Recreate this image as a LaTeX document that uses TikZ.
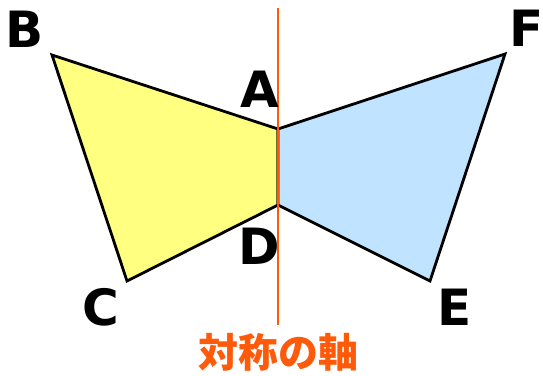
\documentclass[tikz,border=0pt]{standalone}
\usepackage{fontspec}
\setmainfont{DejaVu Sans}
\newfontfamily\jpfont{Noto Sans CJK JP}
\usepackage{xcolor}
\usetikzlibrary{positioning}
\definecolor{wingyellow}{HTML}{FFFF80}
\definecolor{wingblue}{HTML}{C0E4FF}
\definecolor{axisorange}{HTML}{FF5A0A}

\begin{document}
\begin{tikzpicture}[x=1pt, y=-1pt, lab/.style={font=\fontsize{50}{50}\selectfont\bfseries, inner sep=0pt}, wing/.style={draw=black, line width=2.8pt, line join=miter}]
\useasboundingbox (0,0) rectangle (543,375);
\coordinate (A) at (278,129);
\coordinate (D) at (278,205);
\foreach \n/\x/\y in {B/52/55,C/127/281,F/505/54,E/430/281}{\coordinate (\n) at (\x,\y);}
\draw[wing, fill=wingyellow] (A) -- (B) -- (C) -- (D) -- cycle;
\draw[wing, fill=wingblue] (A) -- (F) -- (E) -- (D) -- cycle;
\coordinate (top) at (278,8);
\node[font=\jpfont\fontsize{40}{40}\selectfont\bfseries, text=axisorange, inner sep=0pt] (axislab) at (278,352) {対称の軸};
\coordinate (bot) at (278,325);
\draw[axisorange, line width=1.8pt] (top) -- (bot);
\foreach \n/\x/\y in {B/25/29,C/101/307,A/260/89,D/259/246,F/527/28,E/455/307}{\node[lab] (l\n) at (\x,\y) {\n};}
\end{tikzpicture}
\end{document}
